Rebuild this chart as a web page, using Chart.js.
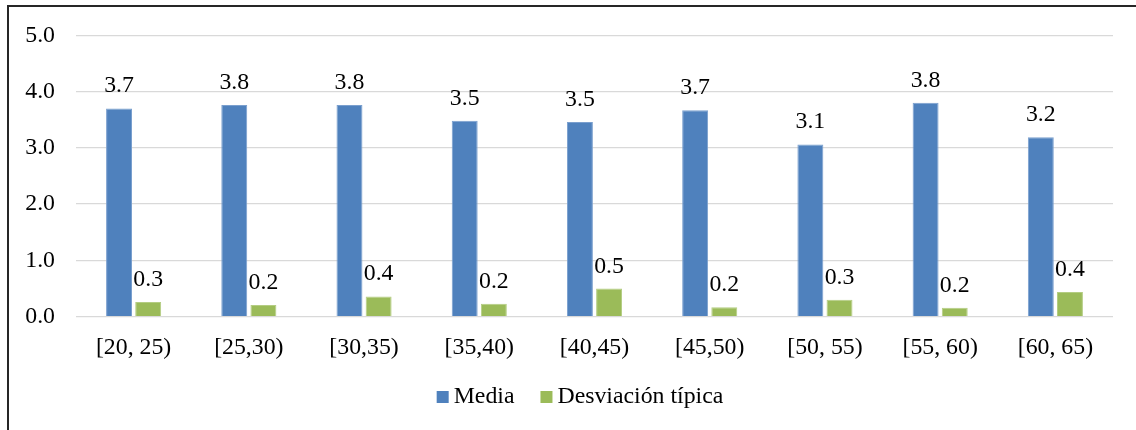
<!DOCTYPE html>
<html>
<head>
<meta charset="utf-8">
<script src="https://cdn.jsdelivr.net/npm/chart.js@4"></script>
<style>
  html, body { margin: 0; padding: 0; background: #fff; overflow: hidden; }
  #wrap { position: relative; width: 1136px; height: 430px; }
  #frame { position: absolute; left: 7px; top: 5px; width: 1300px; height: 600px;
           border-top: 2px solid #262626; border-left: 2px solid #262626; }
  #box { position: absolute; left: 0; top: 0; width: 1136px; height: 430px; }
</style>
</head>
<body>
<div id="wrap">
  <div id="frame"></div>
  <div id="box"><canvas id="c"></canvas></div>
</div>
<script>
// Age groups
const categories = ['[20, 25)', '[25,30)', '[30,35)', '[35,40)', '[40,45)', '[45,50)', '[50, 55)', '[55, 60)', '[60, 65)'];
// Mean score per age group
const media = [3.70, 3.76, 3.76, 3.48, 3.46, 3.67, 3.06, 3.80, 3.19];
// Standard deviation per age group
const desviacion = [0.26, 0.21, 0.36, 0.23, 0.50, 0.17, 0.30, 0.16, 0.44];
// Value axis ticks
const yTicks = [0, 1, 2, 3, 4, 5];

const FONT = 'Liberation Serif, "Times New Roman", serif';
const FSIZE = 23.8;

// Value written above each bar
const valueLabels = {
  id: 'valueLabels',
  afterDatasetsDraw(chart, args, opts) {
    const ctx = chart.ctx;
    ctx.save();
    ctx.font = FSIZE + 'px ' + FONT;
    ctx.fillStyle = '#000';
    ctx.textAlign = 'center';
    ctx.textBaseline = 'alphabetic';
    chart.data.datasets.forEach((ds, i) => {
      chart.getDatasetMeta(i).data.forEach((bar, j) => {
        ctx.fillText(ds.data[j].toFixed(1), bar.x, bar.y - opts.gap);
      });
    });
    ctx.restore();
  }
};

// Legend with small square keys close to their text
const squareLegend = {
  id: 'squareLegend',
  afterDraw(chart, args, opts) {
    const ctx = chart.ctx;
    ctx.save();
    ctx.font = FSIZE + 'px ' + FONT;
    ctx.textBaseline = 'alphabetic';
    ctx.textAlign = 'left';
    const items = chart.data.datasets.map(ds => ({
      text: ds.label, color: ds.backgroundColor, w: ctx.measureText(ds.label).width
    }));
    let total = 0;
    items.forEach((it, k) => {
      total += opts.box + opts.textGap + it.w + (k < items.length - 1 ? opts.itemGap : 0);
    });
    let x = opts.centerX - total / 2;
    items.forEach(it => {
      ctx.fillStyle = it.color;
      ctx.fillRect(x, opts.baseline - opts.box, opts.box, opts.box);
      x += opts.box + opts.textGap;
      ctx.fillStyle = '#000';
      ctx.fillText(it.text, x, opts.baseline);
      x += it.w + opts.itemGap;
    });
    ctx.restore();
  }
};

new Chart(document.getElementById('c'), {
  type: 'bar',
  data: {
    labels: categories,
    datasets: [
      { label: 'Media', data: media, backgroundColor: '#4F81BD',
        borderColor: '#7A9FCE', borderWidth: 1,
        categoryPercentage: 0.506, barPercentage: 0.89 },
      { label: 'Desviación típica', data: desviacion, backgroundColor: '#9BBB59',
        borderColor: '#B4CD82', borderWidth: 1,
        categoryPercentage: 0.506, barPercentage: 0.89 }
    ]
  },
  options: {
    responsive: true,
    maintainAspectRatio: false,
    animation: false,
    layout: { padding: { left: 0, right: 23, top: 35, bottom: 0 } },
    plugins: {
      legend: { display: false },
      tooltip: { enabled: false },
      valueLabels: { gap: 16 },
      squareLegend: { centerX: 580, baseline: 403, box: 12, textGap: 5, itemGap: 26 }
    },
    scales: {
      x: {
        grid: { display: false },
        border: { display: false },
        ticks: { color: '#000', font: { family: FONT, size: FSIZE }, padding: 9, maxRotation: 0 },
        afterFit(scale) { scale.height = 113.3; }
      },
      y: {
        min: 0, max: 5,
        afterBuildTicks(scale) { scale.ticks = yTicks.map(v => ({ value: v })); },
        grid: { color: '#D9D9D9', lineWidth: 1.3, drawTicks: false },
        border: { display: false },
        ticks: { color: '#000', font: { family: FONT, size: FSIZE }, padding: 21,
                 callback: v => Number(v).toFixed(1) },
        afterFit(scale) { scale.width = 76; }
      }
    }
  },
  plugins: [valueLabels, squareLegend]
});
</script>
</body>
</html>
